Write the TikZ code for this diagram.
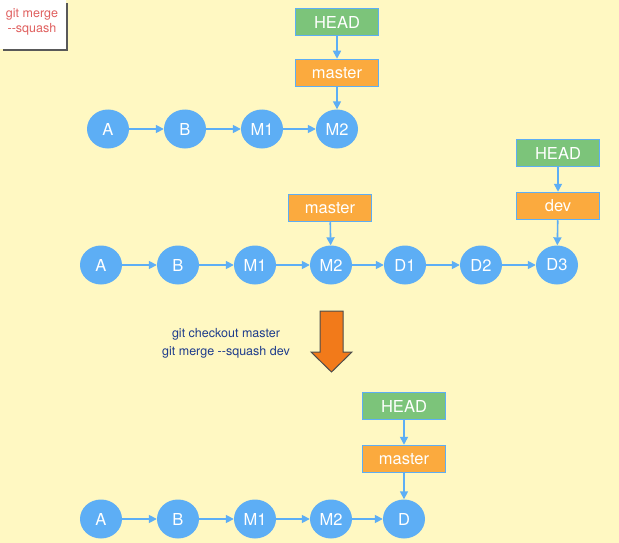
\documentclass[tikz,border=0pt]{standalone}
\usepackage{fontspec}
\setmainfont{TeX Gyre Heros}
\usetikzlibrary{arrows.meta,shapes.geometric}
\definecolor{bgyellow}{HTML}{FFF8C2}
\definecolor{commitblue}{HTML}{5DAEF5}
\definecolor{headgreen}{HTML}{7CC47A}
\definecolor{branchorange}{HTML}{FBAA3E}
\definecolor{cmdblue}{HTML}{1E3C8C}
\definecolor{noteRed}{HTML}{E0605F}
\definecolor{bigorange}{HTML}{F27A1A}

\begin{document}
\begin{tikzpicture}[x=1pt,y=-1pt,
        commit/.style={ellipse,fill=commitblue,text=white,minimum width=42pt,minimum height=39pt,inner sep=0pt,font=\fontsize{16.5}{16.5}\selectfont},
        ref/.style={rectangle,draw=commitblue,line width=1.5pt,text=white,minimum width=83pt,minimum height=27pt,inner sep=0pt,font=\fontsize{16.5}{16.5}\selectfont},
        head/.style={ref,fill=headgreen},
        branch/.style={ref,fill=branchorange},
        link/.style={draw=commitblue,line width=1.6pt,-{Triangle[length=8pt,width=8pt]}}]
    \useasboundingbox[fill=bgyellow] (0,0) rectangle (619,543);
    % note box
    \fill[black!65] (3,3) rectangle (68,51);
    \fill[white] (0,0) rectangle (66,49);
    \node[text=noteRed,align=center,font=\fontsize{12.5}{15}\selectfont] (note) at (32,22) {git merge\\{-}{-}squash};
    % before merge
    \node[commit] (A1) at (108,129) {A};
    \node[commit] (B1) at (185,129) {B};
    \node[commit] (M11) at (262,129) {M1};
    \node[commit] (M21) at (337,129) {M2};
    \node[head] (H1) at (337,22) {HEAD};
    \node[branch] (ma1) at (337,73) {master};
    \draw[link] (A1) -- (B1);
    \draw[link] (B1) -- (M11);
    \draw[link] (M11) -- (M21);
    \draw[link] (H1) -- (ma1);
    \draw[link] (ma1) -- (M21);
    % dev branch
    \node[commit] (A2) at (101,265) {A};
    \node[commit] (B2) at (178,265) {B};
    \node[commit] (M12) at (255,265) {M1};
    \node[commit] (M22) at (331,265) {M2};
    \node[commit] (D12) at (405,265) {D1};
    \node[commit] (D22) at (481,265) {D2};
    \node[commit] (D32) at (557,265) {D3};
    \node[branch] (ma2) at (330,208) {master};
    \node[head] (H2) at (558,153) {HEAD};
    \node[branch] (dev2) at (558,206) {dev};
    \draw[link] (A2) -- (B2);
    \draw[link] (B2) -- (M12);
    \draw[link] (M12) -- (M22);
    \draw[link] (M22) -- (D12);
    \draw[link] (D12) -- (D22);
    \draw[link] (D22) -- (D32);
    \draw[link] (ma2) -- (M22);
    \draw[link] (H2) -- (dev2);
    \draw[link] (dev2) -- (D32);
    % command
    \node[text=cmdblue,align=center,font=\fontsize{12.5}{18}\selectfont] (cmd) at (226,343) {git checkout master\\git merge {-}{-}squash dev};
    \draw[fill=bigorange,draw=black!70,line width=1pt] (320,311) -- (343,311) -- (343,352) -- (352,352)
        -- (331.5,372) -- (311,352) -- (320,352) -- cycle;
    % after merge
    \node[commit] (A3) at (101,519) {A};
    \node[commit] (B3) at (178,519) {B};
    \node[commit] (M13) at (255,519) {M1};
    \node[commit] (M23) at (331,519) {M2};
    \node[commit] (D3) at (404,519) {D};
    \node[head] (H3) at (404,406) {HEAD};
    \node[branch] (ma3) at (404,459) {master};
    \draw[link] (A3) -- (B3);
    \draw[link] (B3) -- (M13);
    \draw[link] (M13) -- (M23);
    \draw[link] (M23) -- (D3);
    \draw[link] (H3) -- (ma3);
    \draw[link] (ma3) -- (D3);
\end{tikzpicture}
\end{document}
